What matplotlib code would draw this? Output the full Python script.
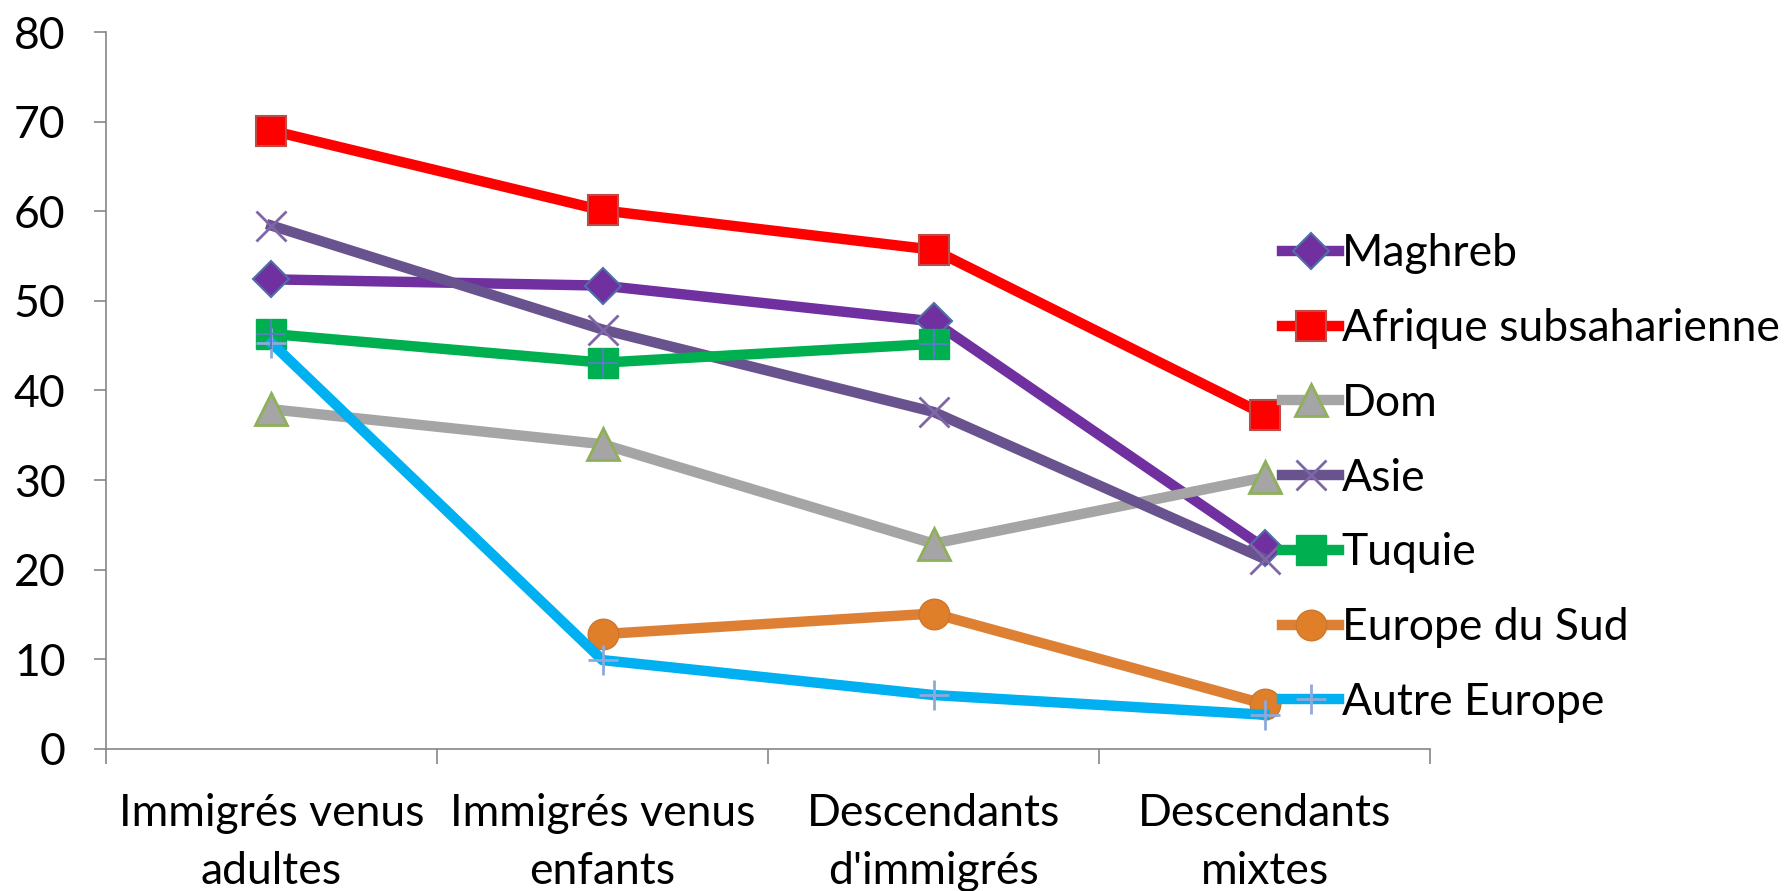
import numpy as np
import matplotlib
matplotlib.use("Agg")
import matplotlib.pyplot as plt

categories = ["Immigrés venus\nadultes", "Immigrés venus\nenfants",
              "Descendants\nd'immigrés", "Descendants\nmixtes"]

maghreb = [52.4, 51.7, 47.7, 22.4]
afrique = [69.0, 60.1, 55.7, 37.3]
dom = [37.9, 34.0, 22.9, 30.3]
asie = [58.4, 46.8, 37.6, 21.2]
turquie = [46.3, 43.1, 45.2, np.nan]
europe_sud = [np.nan, 12.8, 15.1, 5.0]
autre_europe = [45.3, 9.9, 6.0, 3.8]

plt.rcParams['font.family'] = ['Lato', 'DejaVu Sans']
fs = 32

fig = plt.figure(figsize=(17.87, 8.91), dpi=100)
ax = fig.add_axes([0.0593, 0.1596, 0.7410, 0.8044])

x = np.arange(len(categories))
lw = 7.5
ms = 21

ax.plot(x, maghreb, color='#7030A0', lw=lw, marker='D', ms=ms - 3,
        mfc='#7030A0', mec='#4F6FA8', mew=1.5, label='Maghreb', zorder=3)
ax.plot(x, afrique, color='#FF0000', lw=lw, marker='s', ms=ms,
        mfc='#FF0000', mec='#BE4B48', mew=1.5, label='Afrique subsaharienne', zorder=3)
ax.plot(x, dom, color='#A5A5A5', lw=lw, marker='^', ms=ms + 2,
        mfc='#A5A5A5', mec='#8FB05A', mew=2, label='Dom', zorder=3)
ax.plot(x, asie, color='#68538E', lw=lw, marker='x', ms=ms,
        mec='#7F66A8', mew=2, label='Asie', zorder=3)
ax.plot(x, turquie, color='#00B050', lw=lw, marker='s', ms=ms,
        mfc='#00B050', mec='#00B050', label='Tuquie', zorder=3)
ax.plot(x, turquie, ls='none', marker='+', ms=ms, mec='#4F81BD', mew=1.5, zorder=4)
ax.plot(x, europe_sud, color='#DD8033', lw=lw, marker='o', ms=ms + 1,
        mfc='#E07F2A', mec='#D0752A', label='Europe du Sud', zorder=3)
ax.plot(x, autre_europe, color='#00B0F0', lw=lw, marker='+', ms=ms,
        mec='#8EA9DB', mew=2, label='Autre Europe', zorder=3)

ax.set_xlim(-0.5, 3.5)
ax.set_ylim(0, 80)
ax.set_yticks(range(0, 81, 10))
ax.set_xticks(x)
ax.set_xticklabels(categories, fontsize=fs, linespacing=1.5)
ax.set_xticks(np.arange(-0.5, 4, 1), minor=True)
ax.tick_params(axis='x', which='major', length=0, pad=32)
ax.tick_params(axis='x', which='minor', length=11, width=1.2, color='#868686')
ax.tick_params(axis='y', length=9, width=1.2, color='#868686', labelsize=fs, pad=20)

for side in ['top', 'right']:
    ax.spines[side].set_visible(False)
for side in ['left', 'bottom']:
    ax.spines[side].set_color('#868686')
    ax.spines[side].set_linewidth(1.2)

ax.legend(loc='upper left', bbox_to_anchor=(0.875, 0.744), frameon=False,
          fontsize=fs, handlelength=1.28, handletextpad=0.05,
          labelspacing=0.76, borderaxespad=0)

fig.savefig('out.png', dpi=100)
